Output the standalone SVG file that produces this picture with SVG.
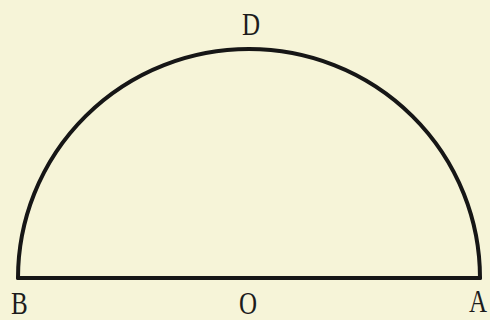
<svg xmlns="http://www.w3.org/2000/svg" width="490" height="320" viewBox="0 0 490 320">
<style>
.lbl{font-family:"Liberation Serif","Times New Roman",serif;font-size:25px;fill:#1c1c1c}
.ln{fill:none;stroke:#161616;stroke-width:4;stroke-linecap:round;stroke-linejoin:round}
</style>
<rect width="490" height="320" fill="#f6f4d8"/>
<g id="connectors">
<path class="ln" d="M18 278 A231 229 0 0 1 480 278"/>
<path class="ln" d="M18 278 L480 278"/>
</g>
<g id="D"><text class="lbl" transform="translate(242,35) scale(1,1.3)">D</text></g>
<g id="B"><text class="lbl" transform="translate(11,314) scale(1,1.3)">B</text></g>
<g id="O"><text class="lbl" transform="translate(239,314) scale(1,1.3)">O</text></g>
<g id="A"><text class="lbl" transform="translate(469,312) scale(1,1.3)">A</text></g>
</svg>
